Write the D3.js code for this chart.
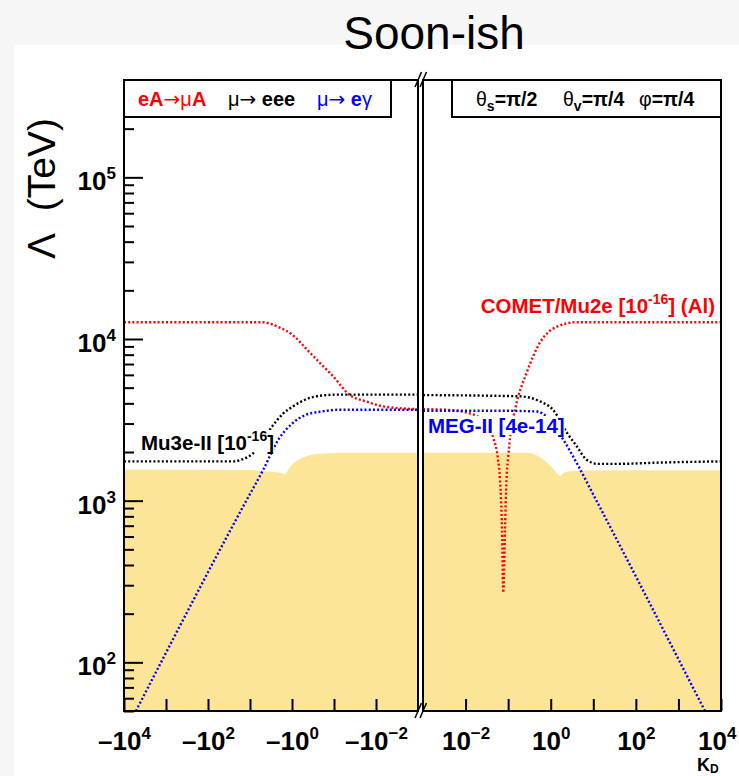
<!DOCTYPE html>
<html>
<head>
<meta charset="utf-8">
<script src="https://cdn.jsdelivr.net/npm/d3@7"></script>
<style>
  body { margin: 0; background: #f6f6f6; }
  svg { display: block; font-family: "Liberation Sans", Arial, Helvetica, sans-serif; }
</style>
</head>
<body>
<script>
// kappa_D values (negative = left panel) and Lambda reach in TeV
const cometK = [-1e4, -5.2, -2.15, -0.85, -0.44, -0.215, -0.106, -0.042, -0.0166, -0.0067, -0.001,
                0.001, 0.0033, 0.0108, 0.0243, 0.0448, 0.0578, 0.0644, 0.0718, 0.0769, 0.0843, 0.0914, 0.0993, 0.111, 0.145, 0.273, 0.56, 1.38, 4.08, 1e4];
const cometL = [1.27e4, 1.27e4, 1.19e4, 1.03e4, 8.6e3, 7.1e3, 5.9e3, 4.5e3, 4.1e3, 3.83e3, 3.68e3,
                3.68e3, 3.65e3, 3.5e3, 3.17e3, 2.44e3, 1.8e3, 1.35e3, 660, 270, 660, 1.35e3, 1.8e3, 2.45e3, 3.65e3, 6.2e3, 9.5e3, 1.19e4, 1.27e4, 1.27e4];

const mu3eK = [-1e4, -22.7, -17.3, -7.2, -2.99, -1.64, -0.946, -0.49, -0.215, -0.072, -0.001,
               0.001, 0.19, 0.56, 1.13, 2.38, 4.08, 7.0, 12.7, 41.7, 363, 1e4];
const mu3eL = [1.75e3, 1.75e3, 1.78e3, 2.04e3, 2.87e3, 3.45e3, 3.83e3, 4.21e3, 4.46e3, 4.53e3, 4.53e3,
               4.5e3, 4.42e3, 4.11e3, 3.65e3, 2.64e3, 2.17e3, 1.79e3, 1.69e3, 1.69e3, 1.72e3, 1.75e3];

const megK = [-5200, -12, -4.8, -2.12, -0.95, -0.46, -0.215, -0.072, -0.001,
              0.001, 0.065, 0.47, 0.86, 1.98, 4.08, 11, 4200];
const megL = [50, 1.01e3, 1.56e3, 2.38e3, 3.03e3, 3.4e3, 3.55e3, 3.65e3, 3.65e3,
              3.6e3, 3.6e3, 3.56e3, 3.26e3, 2.38e3, 1.71e3, 1.04e3, 50];

// excluded region (current bounds)
const exclK = [-1e4, -10, -3.34, -1.93, -1.47, -1.24, -0.946, -0.645, -0.44, -0.215, -0.072, -0.001,
               0.001, 0.273, 0.476, 0.818, 1.26, 1.65, 1.94, 2.84, 14.4, 1e4];
const exclL = [1.56e3, 1.545e3, 1.51e3, 1.49e3, 1.46e3, 1.55e3, 1.69e3, 1.81e3, 1.89e3, 1.95e3, 1.98e3, 1.98e3,
               1.98e3, 1.98e3, 1.9e3, 1.72e3, 1.53e3, 1.42e3, 1.47e3, 1.52e3, 1.54e3, 1.54e3];

// ticks
const xDecades = [1e-2, 1e-1, 1e0, 1e1, 1e2, 1e3, 1e4];
const xLabelled = [1e-2, 1e0, 1e2, 1e4];
const yMajor = [1e2, 1e3, 1e4, 1e5];

const W = 739, H = 776;
const plotTop = 80, plotBottom = 711;

const svg = d3.select("body").append("svg")
    .attr("width", W)
    .attr("height", H);

svg.append("rect")
    .attr("x", 14).attr("y", 45)
    .attr("width", W - 14).attr("height", H - 45)
    .attr("fill", "#fff");

const y = d3.scaleLog().domain([50, 4e5]).range([plotBottom, plotTop]);

const panels = [
  { id: "L", sign: -1, x: d3.scaleLog().domain([1e4, 1e-3]).range([124, 418]) },
  { id: "R", sign: 1,  x: d3.scaleLog().domain([1e-3, 1e4]).range([423, 721]) }
];

const toPts = (ks, ls, sign) => ks.map((k, i) => ({ k: k, l: ls[i] }))
    .filter(d => Math.sign(d.k) === sign)
    .map(d => ({ a: Math.abs(d.k), l: d.l }));

const series = [
  { k: cometK, l: cometL, color: "#ff0000" },
  { k: mu3eK, l: mu3eL, color: "#000000" },
  { k: megK, l: megL, color: "#0000ff" }
];

const defs = svg.append("defs");

panels.forEach(p => {
  const [x0, x1] = p.x.range();
  defs.append("clipPath").attr("id", "clip" + p.id)
    .append("rect")
      .attr("x", x0).attr("y", plotTop)
      .attr("width", x1 - x0).attr("height", plotBottom - plotTop);

  const g = svg.append("g").attr("clip-path", `url(#clip${p.id})`);

  // excluded region
  const area = d3.area()
      .x(d => p.x(d.a))
      .y0(plotBottom)
      .y1(d => y(d.l))
      .curve(d3.curveMonotoneX);
  g.append("path")
      .datum(toPts(exclK, exclL, p.sign).sort((a, b) => p.x(a.a) - p.x(b.a)))
      .attr("fill", "#fde598")
      .attr("d", area);

  const line = d3.line()
      .x(d => p.x(d.a))
      .y(d => y(d.l))
      .curve(d3.curveMonotoneX);

  series.forEach(s => {
    g.append("path")
        .datum(toPts(s.k, s.l, p.sign).sort((a, b) => p.x(a.a) - p.x(b.a)))
        .attr("fill", "none")
        .attr("stroke", s.color)
        .attr("stroke-width", 2.4)
        .attr("stroke-dasharray", "2,2.2")
        .attr("d", line);
  });

  // x ticks, every decade
  const ax = svg.append("g")
      .attr("transform", `translate(0,${plotBottom})`)
      .call(d3.axisBottom(p.x).tickValues(xDecades).tickSize(-12).tickFormat(""));
  ax.select(".domain").remove();
  ax.selectAll(".tick line").attr("stroke", "#000").attr("stroke-width", 2);

  // labels with exponents
  const lab = svg.append("g")
      .attr("transform", `translate(0,${plotBottom})`)
      .call(d3.axisBottom(p.x).tickValues(xLabelled).tickSize(0).tickFormat(""));
  lab.select(".domain").remove();
  lab.selectAll(".tick text")
      .attr("y", 38.5).attr("dy", null)
      .attr("font-size", 26).attr("font-weight", "bold")
      .attr("font-family", "Liberation Sans, Arial, sans-serif")
      .attr("fill", "#000")
      .each(function(d) {
        const t = d3.select(this);
        const e = Math.round(Math.log10(d));
        t.append("tspan").text((p.sign < 0 ? "\u2013" : "") + "10");
        t.append("tspan").attr("dy", -11).attr("font-size", 17).text(e < 0 ? "\u2212" + (-e) : e);
        // keep the last label inside the canvas
        const b = this.getBBox();
        const tx = +this.parentNode.getAttribute("transform").match(/translate\(([-\d.]+)/)[1];
        if (tx + b.x + b.width > W - 2) t.attr("x", W - 2 - (tx + b.x + b.width));
      });

  // panel frame
  svg.append("rect")
      .attr("x", x0).attr("y", plotTop)
      .attr("width", x1 - x0).attr("height", plotBottom - plotTop)
      .attr("fill", "none").attr("stroke", "#000").attr("stroke-width", 2);
});

// y axis
const yAxis = svg.append("g").attr("transform", "translate(124,0)");
yAxis.append("g")
    .call(d3.axisLeft(y).tickValues(y.ticks().filter(v => !yMajor.includes(v))).tickSize(-10).tickFormat(""))
    .call(g => g.select(".domain").remove())
    .selectAll(".tick line").attr("stroke", "#000").attr("stroke-width", 2);
const yMaj = yAxis.append("g")
    .call(d3.axisLeft(y).tickValues(yMajor).tickSize(-19).tickPadding(8).tickFormat(""));
yMaj.select(".domain").remove();
yMaj.selectAll(".tick line").attr("stroke", "#000").attr("stroke-width", 2);
yMaj.selectAll(".tick text")
    .attr("dy", null).attr("y", 12.5)
    .attr("font-size", 26).attr("font-weight", "bold")
    .attr("font-family", "Liberation Sans, Arial, sans-serif")
    .attr("fill", "#000")
    .each(function(d) {
      const t = d3.select(this);
      t.append("tspan").text("10");
      t.append("tspan").attr("dy", -11).attr("font-size", 17).text(Math.round(Math.log10(d)));
    });

// break marks
[plotTop, plotBottom].forEach(yy => {
  [0, 5].forEach(off => {
    svg.append("line")
        .attr("x1", 415 + off).attr("y1", yy + 7)
        .attr("x2", 421.5 + off).attr("y2", yy - 8)
        .attr("stroke", "#000").attr("stroke-width", 1.5);
  });
});

// axis titles
svg.append("text")
    .attr("x", 697).attr("y", 771)
    .attr("font-size", 18).attr("font-weight", "bold")
    .call(t => {
      t.append("tspan").text("K");
      t.append("tspan").attr("dy", 1.5).attr("font-size", 12).text("D");
    });

svg.append("text")
    .attr("transform", "translate(55,118) rotate(-90)")
    .attr("text-anchor", "end")
    .attr("font-size", 39)
    .text("\u039B\u00A0\u00A0(TeV)");

svg.append("text")
    .attr("x", 434).attr("y", 49)
    .attr("text-anchor", "middle")
    .attr("font-size", 46)
    .text("Soon-ish");

// legend boxes
svg.append("rect").attr("x", 124).attr("y", 80).attr("width", 267).attr("height", 37)
    .attr("fill", "#fff").attr("stroke", "#000").attr("stroke-width", 2);
svg.append("rect").attr("x", 452).attr("y", 80).attr("width", 269).attr("height", 37)
    .attr("fill", "#fff").attr("stroke", "#000").attr("stroke-width", 2);

const arrowFont = "DejaVu Sans, sans-serif";
const legendItems = [
  { x: 138, color: "#ff0000", parts: [["eA", "bold"], ["\u2192", "arrow"], ["\u03BC", "normal"], ["A", "bold"]] },
  { x: 228, color: "#000000", parts: [["\u03BC", "normal"], ["\u2192", "arrow"], ["\u00A0eee", "bold"]] },
  { x: 317, color: "#0000ff", parts: [["\u03BC", "normal"], ["\u2192", "arrow"], ["\u00A0e", "bold"], ["\u03B3", "normal"]] }
];
legendItems.forEach(it => {
  const t = svg.append("text").attr("x", it.x).attr("y", 106)
      .attr("font-size", 20).attr("fill", it.color);
  it.parts.forEach(pt => {
    const s = t.append("tspan").text(pt[0]);
    if (pt[1] === "arrow") s.attr("font-family", arrowFont).attr("font-size", 20);
    else s.attr("font-weight", pt[1]);
  });
});

const angleItems = [
  { x: 476, sym: "\u03B8", sub: "s", val: "=\u03C0/2" },
  { x: 563, sym: "\u03B8", sub: "v", val: "=\u03C0/4" },
  { x: 639, sym: "\u03C6", sub: null, val: "=\u03C0/4" }
];
angleItems.forEach(it => {
  const t = svg.append("text").attr("x", it.x).attr("y", 106).attr("font-size", 19.5);
  t.append("tspan").text(it.sym);
  if (it.sub) t.append("tspan").attr("dy", 5).attr("font-size", 14).attr("font-weight", "bold").text(it.sub);
  t.append("tspan").attr("dy", it.sub ? -5 : 0).attr("font-weight", "bold").text(it.val);
});

// curve labels, white box behind like the original
function curveLabel(x, yy, anchor, color, pre, sup, post) {
  const g = svg.append("g");
  const t = g.append("text").attr("x", x).attr("y", yy)
      .attr("text-anchor", anchor).attr("font-size", 20.5).attr("font-weight", "bold")
      .attr("fill", color);
  t.append("tspan").text(pre);
  if (sup) t.append("tspan").attr("dy", -9).attr("font-size", 14).text(sup);
  t.append("tspan").attr("dy", sup ? 9 : 0).text(post);
  const b = t.node().getBBox();
  g.insert("rect", "text")
      .attr("x", b.x).attr("y", b.y + 2)
      .attr("width", b.width).attr("height", b.height - 4)
      .attr("fill", "#fff");
}
curveLabel(715, 313, "end", "#ff0000", "COMET/Mu2e [10", "-16", "] (Al)");
curveLabel(428, 433, "start", "#0000ff", "MEG-II [4e-14]", null, "");
curveLabel(141, 450, "start", "#000000", "Mu3e-II [10", "-16", "]");
</script>
</body>
</html>
